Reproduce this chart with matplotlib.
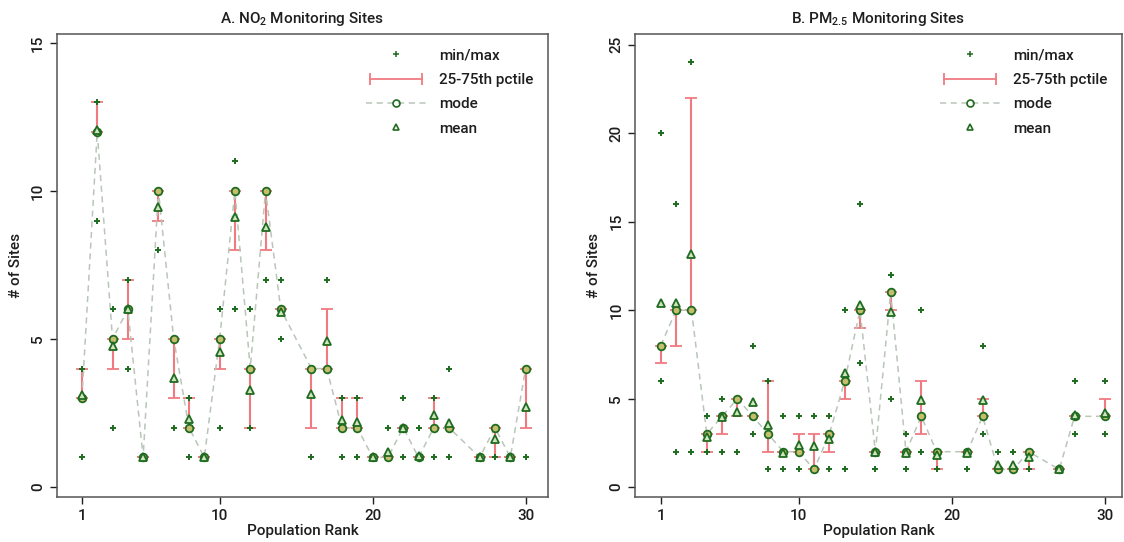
import numpy as np
import matplotlib
matplotlib.use("Agg")
import matplotlib.pyplot as plt
from matplotlib.lines import Line2D
from matplotlib.legend_handler import HandlerLine2D

plt.rcParams['font.family'] = ['Roboto', 'DejaVu Sans']
plt.rcParams['font.weight'] = 'medium'
plt.rcParams['axes.titleweight'] = 'medium'
plt.rcParams['axes.labelweight'] = 'medium'
plt.rcParams['mathtext.fontset'] = 'custom'
plt.rcParams['mathtext.rm'] = 'Roboto:medium'
plt.rcParams['mathtext.it'] = 'Roboto:medium'
plt.rcParams['mathtext.default'] = 'regular'

# ---------------- Panel A: NO2 ----------------
no2_rank = [1, 2, 3, 4, 5, 6, 7, 8, 9, 10, 11, 12, 13, 14,
            16, 17, 18, 19, 20, 21, 22, 23, 24, 25, 27, 28, 29, 30]
no2_min = [1, 9, 2, 4, 1, 8, 2, 1, 1, 2, 6, 2, 7, 5,
           1, 4, 1, 1, 1, 1, 1, 1, 1, 1, 1, 1, 1, 1]
no2_max = [4, 13, 6, 7, 1, 10, 5, 3, 1, 6, 11, 6, 10, 7,
           4, 7, 3, 3, 1, 2, 3, 2, 3, 4, 1, 2, 1, 4]
no2_p25 = [3, 12, 4, 5, 1, 9, 3, 2, 1, 4, 8, 2, 8, 6,
           2, 4, 2, 2, 1, 1, 2, 1, 2, 2, 1, 1, 1, 2]
no2_p75 = [4, 13, 5, 7, 1, 10, 5, 3, 1, 5, 10, 4, 10, 6,
           4, 6, 3, 3, 1, 1, 2, 1, 3, 2, 1, 2, 1, 4]
no2_mode = [3, 12, 5, 6, 1, 10, 5, 2, 1, 5, 10, 4, 10, 6,
            4, 4, 2, 2, 1, 1, 2, 1, 2, 2, 1, 2, 1, 4]
no2_mean = [3.1, 12.05, 4.77, 6.0, 1.0, 9.45, 3.68, 2.3, 1.0, 4.55, 9.11, 3.29, 8.8, 5.9,
            3.14, 4.92, 2.27, 2.2, 1.0, 1.18, 2.0, 1.05, 2.44, 2.16, 1.0, 1.62, 1.0, 2.69]

# ---------------- Panel B: PM2.5 ----------------
pm_rank = [1, 2, 3, 4, 5, 6, 7, 8, 9, 10, 11, 12, 13, 14, 15, 16, 17, 18, 19,
           21, 22, 23, 24, 25, 27, 28, 30]
pm_min = [6, 2, 2, 2, 2, 2, 3, 1, 1, 1, 1, 1, 1, 7, 1, 5, 1, 2, 1,
          1, 3, 1, 1, 1, 1, 3, 3]
pm_max = [20, 16, 24, 4, 5, 5, 8, 6, 4, 4, 4, 4, 10, 16, 2, 12, 3, 10, 2,
          2, 8, 2, 2, 2, 1, 6, 6]
pm_p25 = [7, 8, 10, 2, 3, 4, 4, 2, 2, 2, 1, 2, 5, 9, 2, 10, 2, 3, 1,
          2, 4, 1, 1, 1, 1, 4, 4]
pm_p75 = [8, 10, 22, 3, 4, 5, 4, 6, 2, 3, 3, 3, 6, 10, 2, 11, 2, 6, 2,
          2, 5, 1, 1, 2, 1, 4, 5]
pm_mode = [8, 10, 10, 3, 4, 5, 4, 3, 2, 2, 1, 3, 6, 10, 2, 11, 2, 4, 2,
           2, 4, 1, 1, 2, 1, 4, 4]
pm_mean = [10.4, 10.4, 13.2, 2.83, 3.95, 4.25, 4.8, 3.5, 1.95, 2.4, 2.3, 2.72, 6.45, 10.3, 2.0,
           9.9, 1.9, 4.9, 1.83, 1.9, 4.94, 1.26, 1.26, 1.7, 1.0, 4.1, 4.2]

x_ticks = [1, 10, 20, 30]

GREEN = '#1f6b1f'
RED = '#f07a80'
LINE = '#b9c6b9'
CIRC_FACE = '#c4be6e'
TRI_FACE = '#cfe6c0'
TXT = '#1e1e1e'


def panel(ax, rank, vmin, vmax, p25, p75, mode, mean, title, yticks, ylim, xlim):
    rank = np.asarray(rank, float)
    p25 = np.asarray(p25, float)
    p75 = np.asarray(p75, float)
    ax.errorbar(rank, p25, yerr=[np.zeros_like(p25), p75 - p25], fmt='none',
                ecolor=RED, elinewidth=1.5, capsize=4, capthick=1.3, zorder=2)
    ax.plot(rank, mode, linestyle=(0, (4, 3)), color=LINE, lw=1.1, zorder=3)
    ax.plot(rank, vmin, linestyle='none', marker='+', color=GREEN, ms=5, mew=1.4, zorder=4)
    ax.plot(rank, vmax, linestyle='none', marker='+', color=GREEN, ms=5, mew=1.4, zorder=4)
    ax.plot(rank, mode, linestyle='none', marker='o', ms=5.5, mfc=CIRC_FACE, mec=GREEN,
            mew=1.3, zorder=5)
    ax.plot(rank, mean, linestyle='none', marker='^', ms=6, mfc=TRI_FACE, mec=GREEN,
            mew=1.3, zorder=6)

    ax.set_xlim(*xlim)
    ax.set_ylim(*ylim)
    ax.set_xticks(x_ticks)
    ax.set_yticks(yticks)
    for lab in ax.get_yticklabels():
        lab.set_rotation(90)
        lab.set_va('center')
    ax.tick_params(axis='both', labelsize=11, colors=TXT, length=5, width=1)
    for s in ax.spines.values():
        s.set_color('#555555')
        s.set_linewidth(1.1)
    ax.set_title(title, fontsize=11, color=TXT, pad=8)
    ax.set_xlabel('Population Rank', fontsize=11, color=TXT, labelpad=1)
    ax.set_ylabel('# of Sites', fontsize=11, color=TXT, labelpad=6)

    h_minmax = Line2D([], [], linestyle='none', marker='+', color=GREEN, ms=5, mew=1.1)
    h_pct = Line2D([], [], linestyle='-', color=RED, lw=1.3, marker='|', ms=8, mew=1.3)
    h_mode = Line2D([], [], linestyle=(0, (4, 3)), color=LINE, lw=1.1, marker='o', ms=5,
                    mfc='none', mec=GREEN, mew=1.2)
    h_mean = Line2D([], [], linestyle='none', marker='^', ms=5, mfc='none', mec=GREEN, mew=1.2)
    ax.legend([h_minmax, h_pct, h_mode, h_mean],
              ['min/max', '25-75th pctile', 'mode', 'mean'],
              handler_map={h_pct: HandlerLine2D(numpoints=2),
                           h_minmax: HandlerLine2D(numpoints=1),
                           h_mode: HandlerLine2D(numpoints=1),
                           h_mean: HandlerLine2D(numpoints=1)},
              loc='upper right', frameon=False, fontsize=11, handlelength=4,
              handletextpad=0.8, labelspacing=0.68, borderaxespad=0.55,
              labelcolor=TXT)


fig = plt.figure(figsize=(11.24, 5.42), dpi=100)
axA = fig.add_axes([0.0507, 0.083, 0.4368, 0.854])
axB = fig.add_axes([0.565, 0.083, 0.4333, 0.854])

panel(axA, no2_rank, no2_min, no2_max, no2_p25, no2_p75, no2_mode, no2_mean,
      'A. NO$_2$ Monitoring Sites', [0, 5, 10, 15], (-0.34, 15.3), (-0.63, 31.46))
panel(axB, pm_rank, pm_min, pm_max, pm_p25, pm_p75, pm_mode, pm_mean,
      'B. PM$_{2.5}$ Monitoring Sites', [0, 5, 10, 15, 20, 25], (-0.56, 25.6), (-0.68, 31.1))

fig.savefig('out.png', dpi=100, facecolor='white')
